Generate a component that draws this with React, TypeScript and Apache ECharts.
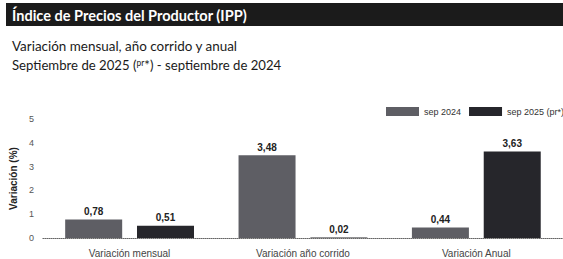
import React, { useEffect, useRef } from "react";
import * as echarts from "echarts";

const categories = ["Variación mensual", "Variación año corrido", "Variación Anual"];
const seriesNames = ["sep 2024", "sep 2025 (pr*)"];
const values2024 = [0.78, 3.48, 0.44];
const values2025 = [0.51, 0.02, 3.63];
const yTicks = [0, 1, 2, 3, 4, 5];

const fmt = (v: number) => v.toFixed(2).replace(".", ",");

export default function App() {
  const ref = useRef<HTMLDivElement>(null);
  useEffect(() => {
    if (!ref.current) return;
    const chart = echarts.init(ref.current, null, { renderer: "svg" });
    chart.setOption({
      animation: false,
      backgroundColor: "#ffffff",
      graphic: [
        { type: "rect", left: 6, top: 3, shape: { width: 560, height: 23 }, style: { fill: "#1b1b1b" } },
        {
          type: "text", x: 12, y: 14.5, scaleX: 0.97,
          style: { text: "Índice de Precios del Productor (IPP)", fill: "#ffffff", font: "bold 15px Lato", verticalAlign: "middle" },
        },
        {
          type: "text", x: 12, y: 45, scaleX: 0.96,
          style: { text: "Variación mensual, año corrido y anual", fill: "#1a1a1a", font: "14px Lato", verticalAlign: "middle" },
        },
        {
          type: "text", x: 12, y: 65, scaleX: 0.94,
          style: {
            text: "Septiembre de 2025 ({sup|pr}*) - septiembre de 2024",
            fill: "#1a1a1a", font: "14px Lato", verticalAlign: "middle",
            rich: { sup: { fontSize: 9, fontFamily: "Lato", fill: "#1a1a1a", verticalAlign: "top", padding: [0, 0, 6, 0] } },
          },
        },
      ],
      legend: {
        orient: "horizontal", left: 381, top: 102, width: 400, itemWidth: 33, itemHeight: 9, itemGap: 8, icon: "rect",
        textStyle: { fontSize: 9, color: "#333", fontFamily: "Liberation Sans" },
        data: seriesNames,
      },
      grid: { left: 40, width: 531, top: 119, bottom: 21 },
      xAxis: {
        type: "category", data: categories,
        axisTick: { show: false },
        axisLine: { lineStyle: { type: "dotted", color: "#666", width: 1 } },
        axisLabel: { fontSize: 10, color: "#444", fontFamily: "Liberation Sans", margin: 10 },
      },
      yAxis: {
        type: "value", min: yTicks[0], max: yTicks[yTicks.length - 1], interval: 1,
        name: "Variación (%)", nameLocation: "middle", nameGap: 24,
        nameTextStyle: { fontSize: 10, fontWeight: "bold", color: "#222", fontFamily: "Liberation Sans" },
        splitLine: { show: false },
        axisLine: { show: false },
        axisTick: { show: false },
        axisLabel: { fontSize: 9, color: "#555", fontFamily: "Liberation Sans", margin: 9 },
      },
      series: [
        {
          name: seriesNames[0], type: "bar", data: values2024, barWidth: 57, barGap: "26%",
          itemStyle: { color: "#5e5e64" },
          label: { show: true, position: "top", distance: 3, formatter: (p: any) => fmt(p.value), fontSize: 10, fontWeight: "bold", color: "#222", fontFamily: "Liberation Sans" },
        },
        {
          name: seriesNames[1], type: "bar", data: values2025, barWidth: 57, barGap: "26%",
          itemStyle: { color: "#26262b" },
          label: { show: true, position: "top", distance: 3, formatter: (p: any) => fmt(p.value), fontSize: 10, fontWeight: "bold", color: "#222", fontFamily: "Liberation Sans" },
        },
      ],
    });
    return () => chart.dispose();
  }, []);
  return <div ref={ref} style={{ position: "fixed", left: 0, top: 0, width: 563, height: 259 }} />;
}
